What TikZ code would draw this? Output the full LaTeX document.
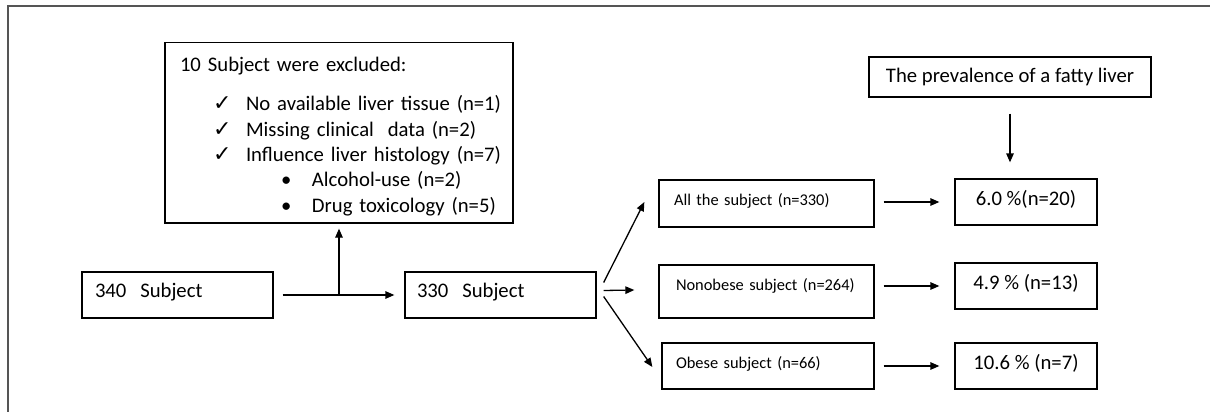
\documentclass[tikz,border=0pt]{standalone}
\usepackage{fontspec}
\setmainfont{Carlito}
\newfontfamily\symfont{DejaVu Sans}
\usetikzlibrary{arrows.meta, positioning}
\definecolor{framegray}{RGB}{85, 85, 85}
\newcommand{\tickmark}{\makebox[30pt][l]{\hspace*{-3pt}{\symfont\fontsize{22}{20}\selectfont ✓}}}
\newcommand{\bulletmark}{\makebox[31pt][l]{\textbullet}}

\begin{document}
\begin{tikzpicture}[
    x=1pt, y=-1pt,
    box/.style={rectangle, draw=black, line width=1.3pt, inner ysep=0pt, align=left,
                font=\fontsize{20.7}{25.5}\selectfont},
    smallbox/.style={box, font=\fontsize{16.4}{20}\selectfont},
    result/.style={rectangle, draw=black, line width=1.3pt, inner ysep=0pt,
                   minimum width=142pt, text height=26.5pt, text depth=19.5pt,
                   font=\fontsize{20.7}{25.5}\selectfont},
    arrow/.style={-{Triangle[length=9pt, width=7.5pt]}, line width=1.3pt}
]
\useasboundingbox (0,0) rectangle (1210,412);

% Frame
\draw[framegray, line width=1.8pt] (8,430) |- (1230,6);

% Boxes
\node[box, text width=348pt, inner xsep=0pt, text height=29pt, text depth=151.5pt] (excl) at (339,132.75)
  {\hspace*{15pt}10 Subject were excluded:\\[13.5pt]
   \hspace*{51pt}\tickmark No available liver tissue (n=1)\\
   \hspace*{51pt}\tickmark Missing clinical~~data (n=2)\\
   \hspace*{51pt}\tickmark Influence liver histology (n=7)\\
   \hspace*{116pt}\bulletmark Alcohol-use (n=2)\\
   \hspace*{116pt}\bulletmark Drug toxicology (n=5)};
\node[box, align=center, inner xsep=0pt, minimum width=282pt, minimum height=40pt] (prev) at (1010,77)
  {The prevalence of a fatty liver};
\node[box, text width=165pt, inner xsep=13pt, text height=25.5pt, text depth=20.5pt] (s340) at (177.5,295) {340~~Subject};
\node[box, text width=167pt, inner xsep=12pt, text height=25.5pt, text depth=20.5pt] (s330) at (500.5,295) {330~~Subject};
\node[smallbox, text width=185pt, inner xsep=15pt, text height=25pt, text depth=22pt] (all) at (766.5,203.5)
  {All the subject (n=330)};
\node[smallbox, text width=185pt, inner xsep=15pt, text height=25pt, text depth=28pt] (nonobese) at (766.5,291.5)
  {\hspace*{2pt}Nonobese subject (n=264)};
\node[smallbox, text width=184pt, inner xsep=14pt, text height=25pt, text depth=21pt] (obese) at (768,366)
  {Obese subject (n=66)};
\node[result] (r1) at (1026,202) {6.0 \%(n=20)};
\node[result] (r2) at (1026,286) {4.9 \% (n=13)};
\node[result] (r3) at (1026,366) {10.6 \% (n=7)};

% Arrows
\draw[arrow] ([xshift=9pt]s340.east) -- ([xshift=-10pt]s330.west);
\draw[arrow] (excl.south |- s340.east) -- ([yshift=-5pt]excl.south);
\draw[arrow] ([xshift=7pt, yshift=12.5pt]s330.east) -- ([xshift=-14pt, yshift=1.5pt]all.west);
\draw[arrow] ([xshift=7pt, yshift=4.5pt]s330.east) -- ([xshift=-24pt, yshift=1.5pt]nonobese.west);
\draw[arrow] ([xshift=7pt, yshift=-1.5pt]s330.east) -- ([xshift=-9pt, yshift=-1pt]obese.west);
\draw[arrow] ([xshift=9pt]all.east |- r1.west) -- ([xshift=-15pt]r1.west);
\draw[arrow] ([xshift=9pt]nonobese.east |- r2.west) -- ([xshift=-15pt]r2.west);
\draw[arrow] ([xshift=9pt]obese.east |- r3.west) -- ([xshift=-15pt]r3.west);
\draw[arrow] ([yshift=-16pt]prev.south) -- ([yshift=16pt]prev.south |- r1.north);

\end{tikzpicture}
\end{document}
